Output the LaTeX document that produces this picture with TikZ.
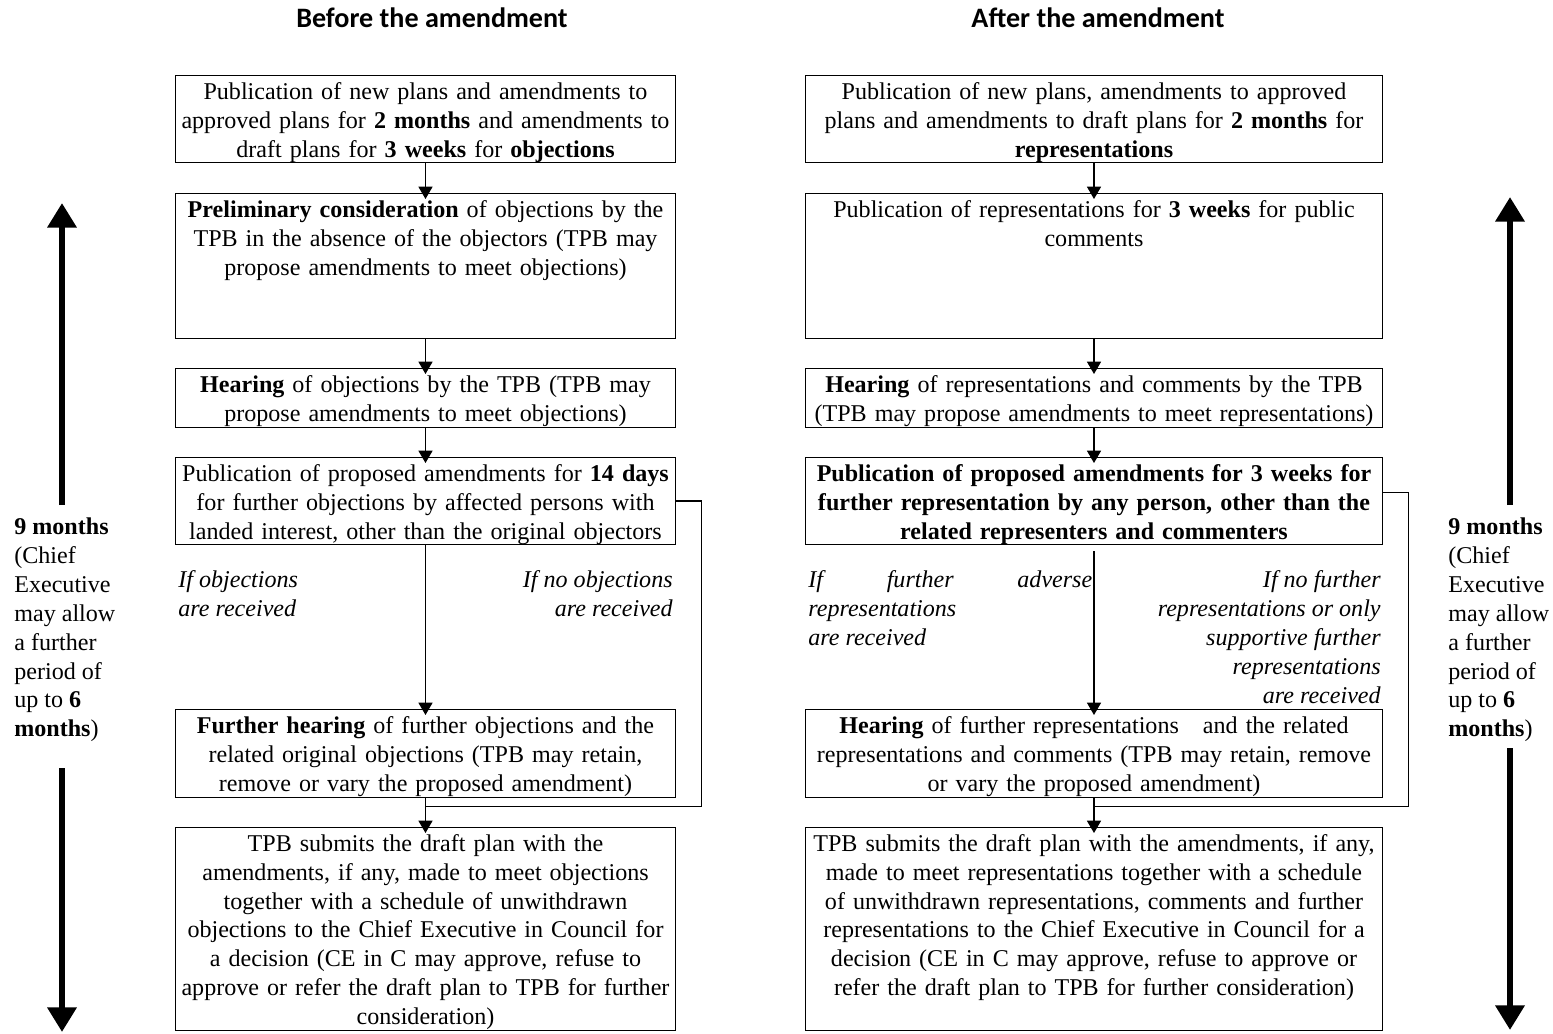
\documentclass[tikz,border=0pt]{standalone}
\usepackage{fontspec}
\setmainfont{Liberation Serif}
\newfontfamily\headfont{Carlito}
\usetikzlibrary{arrows.meta, positioning, calc}

\begin{document}
\begin{tikzpicture}[x=0.02cm, y=-0.02cm,
  box/.style={draw, line width=0.6pt, anchor=north, align=center,
              font=\fontsize{13.7}{16.5}\selectfont,
              inner xsep=0.01cm, inner ysep=0.05cm, text height=0.42cm},
  lbox/.style={box, text width=10.0cm},
  rbox/.style={box, text width=11.54cm},
  note/.style={font=\fontsize{13.7}{16.5}\selectfont\itshape, inner sep=0pt},
  side/.style={font=\fontsize{13.7}{16.5}\selectfont, align=left,
               anchor=north west, inner sep=0pt},
  head/.style={font=\headfont\bfseries\fontsize{16}{19}\selectfont},
  line/.style={line width=0.6pt},
  arr/.style={line, -{Triangle[length=7pt,width=8pt]}, shorten >=-0.12cm},
  big/.style={-{Triangle[length=14pt,width=16pt]}, line width=3.8pt}
]
  \useasboundingbox (0,0) rectangle (1553,1034);

  \node[head] (hbefore) at (432,18) {Before the amendment};
  \node[head] (hafter)  at (1098,18) {After the amendment};

  % before the amendment
  \node[lbox, text depth=1.22cm] (L1) at (425.5,75)
    {Publication of new plans and amendments to\\approved plans for \textbf{2 months} and amendments to\\draft plans for \textbf{3 weeks} for \textbf{objections}};
  \node[lbox, text depth=2.38cm] (L2) at (425.5,193)
    {\textbf{Preliminary consideration} of objections by the\\TPB in the absence of the objectors (TPB may\\propose amendments to meet objections)};
  \node[lbox, text depth=0.66cm] (L3) at (425.5,368)
    {\textbf{Hearing} of objections by the TPB (TPB may\\propose amendments to meet objections)};
  \node[lbox, text depth=1.22cm] (L4) at (425.5,457)
    {Publication of proposed amendments for \textbf{14 days}\\for further objections by affected persons with\\landed interest, other than the original objectors};
  \node[lbox, text depth=1.24cm] (L5) at (425.5,709)
    {\textbf{Further hearing} of further objections and the\\related original objections (TPB may retain,\\remove or vary the proposed amendment)};
  \node[lbox, text depth=3.54cm] (L6) at (425.5,827)
    {TPB submits the draft plan with the\\amendments, if any, made to meet objections\\together with a schedule of unwithdrawn\\objections to the Chief Executive in Council for\\a decision (CE in C may approve, refuse to\\approve or refer the draft plan to TPB for further\\consideration)};

  \node[note, anchor=north west, align=left] (Lyes) at (178,570) {If objections\\are received};
  \node[note, anchor=north east, align=right] (Lno) at (673,570) {If no objections\\are received};

  \draw[arr] (L1) -- (L2);
  \draw[arr] (L2) -- (L3);
  \draw[arr] (L3) -- (L4);
  \draw[arr] (L4) -- (L5);
  \draw[arr] (L5) -- (L6);
  \path (L5.south) ++(0,8) coordinate (Ljoin);
  \draw[line] (L4.east) -- ++(25,0) |- (Ljoin);

  % after the amendment
  \node[rbox, text depth=1.22cm] (R1) at (1094,75)
    {Publication of new plans, amendments to approved\\plans and amendments to draft plans for \textbf{2 months} for\\\textbf{representations}};
  \node[rbox, text depth=2.38cm] (R2) at (1094,193)
    {Publication of representations for \textbf{3 weeks} for public\\comments};
  \node[rbox, text depth=0.66cm] (R3) at (1094,368)
    {\textbf{Hearing} of representations and comments by the TPB\\(TPB may propose amendments to meet representations)};
  \node[rbox, text depth=1.22cm] (R4) at (1094,457)
    {\textbf{Publication of proposed amendments for 3 weeks for}\\\textbf{further representation by any person, other than the}\\\textbf{related representers and commenters}};
  \node[rbox, text depth=1.24cm] (R5) at (1094,709)
    {\textbf{Hearing} of further representations\quad and the related\\representations and comments (TPB may retain, remove\\or vary the proposed amendment)};
  \node[rbox, text depth=3.54cm] (R6) at (1094,827)
    {TPB submits the draft plan with the amendments, if any,\\made to meet representations together with a schedule\\of unwithdrawn representations, comments and further\\representations to the Chief Executive in Council for a\\decision (CE in C may approve, refuse to approve or\\refer the draft plan to TPB for further consideration)};

  \node[note, anchor=north west, align=left] (Ryes) at (808,570)
    {\makebox[5.68cm][s]{If further adverse}\\representations\\are received};
  \node[note, anchor=north east, align=right] (Rno) at (1381,570)
    {If no further\\representations or only\\supportive further\\representations\\are received};

  \draw[arr] (R1) -- (R2);
  \draw[arr] (R2) -- (R3);
  \draw[arr] (R3) -- (R4);
  \draw[arr, shorten <=0.12cm] (R4) -- (R5);
  \draw[arr] (R5) -- (R6);
  \path (R5.south) ++(0,8) coordinate (Rjoin);
  \draw[line] ([yshift=0.17cm]R4.east) -- ++(25,0) |- (Rjoin);

  % time limits at the sides
  \node[side] (Lside) at (14,517)
    {\textbf{9 months}\\(Chief\\Executive\\may allow\\a further\\period of\\up to \textbf{6}\\\textbf{months})};
  \node[side] (Rside) at (1448,517)
    {\textbf{9 months}\\(Chief\\Executive\\may allow\\a further\\period of\\up to \textbf{6}\\\textbf{months})};

  \coordinate (Ltop) at (62,203);
  \coordinate (Lbot) at (62,1032);
  \coordinate (Rtop) at (1510,197);
  \coordinate (Rbot) at (1510,1030);
  \draw[big] (62,505) -- (Ltop);
  \draw[big] (62,768) -- (Lbot);
  \draw[big] (1510,505) -- (Rtop);
  \draw[big] (1510,748) -- (Rbot);
\end{tikzpicture}
\end{document}
